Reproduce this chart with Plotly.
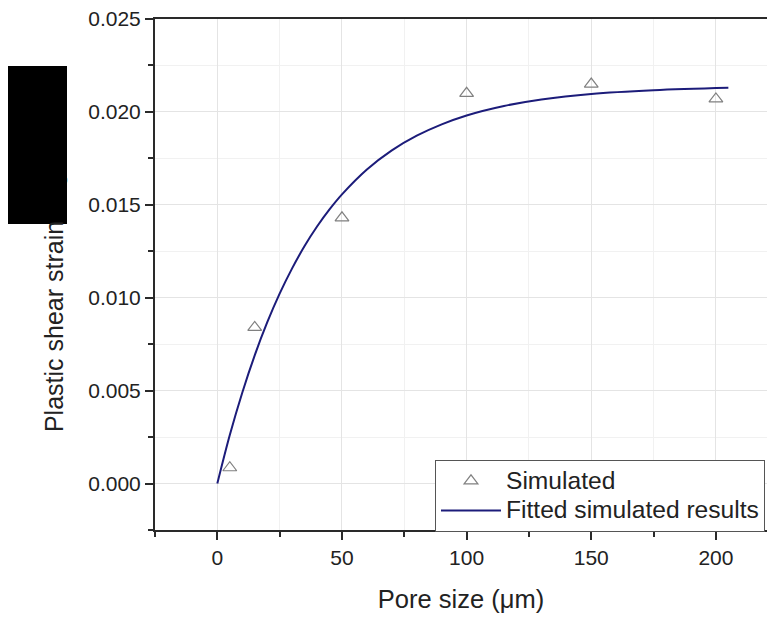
import plotly.graph_objects as go

# Simulated data
sim_x = [5, 15, 50, 100, 150, 200]
sim_y = [0.00085, 0.0084, 0.0143, 0.0210, 0.0215, 0.0207]

# Fitted curve
fit_x = [0, 5, 10, 15, 20, 25, 30, 35, 40, 45, 50, 60, 70, 80, 90, 100, 115, 130, 150, 175, 205]
fit_y = [0.0, 0.00261, 0.00489, 0.00690, 0.00867, 0.01022, 0.01158, 0.01278, 0.01383,
         0.01475, 0.01556, 0.01690, 0.01793, 0.01872, 0.01933, 0.01981, 0.02032,
         0.02067, 0.02097, 0.02117, 0.02130]

x_ticks = [0, 50, 100, 150, 200]
y_ticks = [0.000, 0.005, 0.010, 0.015, 0.020, 0.025]

FONT = "Arial, Liberation Sans, sans-serif"
LEG = "<span style='font-size:24.6px'>%s</span>"
Y_TITLE = "Plastic shear strain<span style='color:#000000;font-size:21px'> magnitude</span>"

fig = go.Figure()
fig.add_trace(go.Scatter(
    x=sim_x, y=sim_y, mode="markers", name=LEG % "Simulated",
    marker=dict(symbol="triangle-up-open", size=12, color="#808080",
                line=dict(width=1.2, color="#808080")),
))
fig.add_trace(go.Scatter(
    x=fit_x, y=fit_y, mode="lines", name=LEG % "Fitted simulated results",
    line=dict(color="#1c1c7a", width=2, shape="spline"),
))

axis_common = dict(
    showline=True, linecolor="#2a2a2a", linewidth=2,
    ticks="outside", ticklen=8, tickwidth=2, tickcolor="#2a2a2a",
    showgrid=True, gridcolor="#e4e4e4", gridwidth=1,
    zeroline=False,
    tickfont=dict(family=FONT, size=21, color="#222"),
)

fig.update_layout(
    width=767, height=617,
    margin=dict(l=155, r=0, t=19, b=87),
    paper_bgcolor="white", plot_bgcolor="white",
    font=dict(family=FONT, color="#222"),
    showlegend=True,
    legend=dict(
        x=0.4575, y=0.137, xanchor="left", yanchor="top",
        bgcolor="white", bordercolor="#555", borderwidth=1,
        font=dict(family=FONT, size=20.5, color="#222"),
        itemwidth=60, tracegroupgap=0,
    ),
    xaxis=dict(
        range=[-25, 220.5], tickvals=x_ticks, mirror=True,
        title=dict(text="Pore size (μm)", font=dict(family=FONT, size=25.5, color="#222"), standoff=22),
        minor=dict(ticks="outside", ticklen=5, tickwidth=2, tickcolor="#2a2a2a",
                   dtick=25, tick0=-25, showgrid=True, gridcolor="#f1f1f1"),
        **axis_common,
    ),
    yaxis=dict(
        range=[-0.0025, 0.025], tickvals=y_ticks, tickformat=".3f",
        title=dict(text=Y_TITLE, font=dict(family=FONT, size=25, color="#222"), standoff=17),
        minor=dict(ticks="outside", ticklen=5, tickwidth=2, tickcolor="#2a2a2a",
                   dtick=0.0025, tick0=0, showgrid=True, gridcolor="#f1f1f1"),
        **axis_common,
    ),
    shapes=[dict(type="rect", xref="paper", yref="paper",
                 x0=(8 - 155) / 612, x1=(67 - 155) / 612,
                 y0=(530 - 224) / 511, y1=(530 - 66) / 511,
                 fillcolor="black", line=dict(width=0), layer="above")],
)

fig.write_html("out.html")
